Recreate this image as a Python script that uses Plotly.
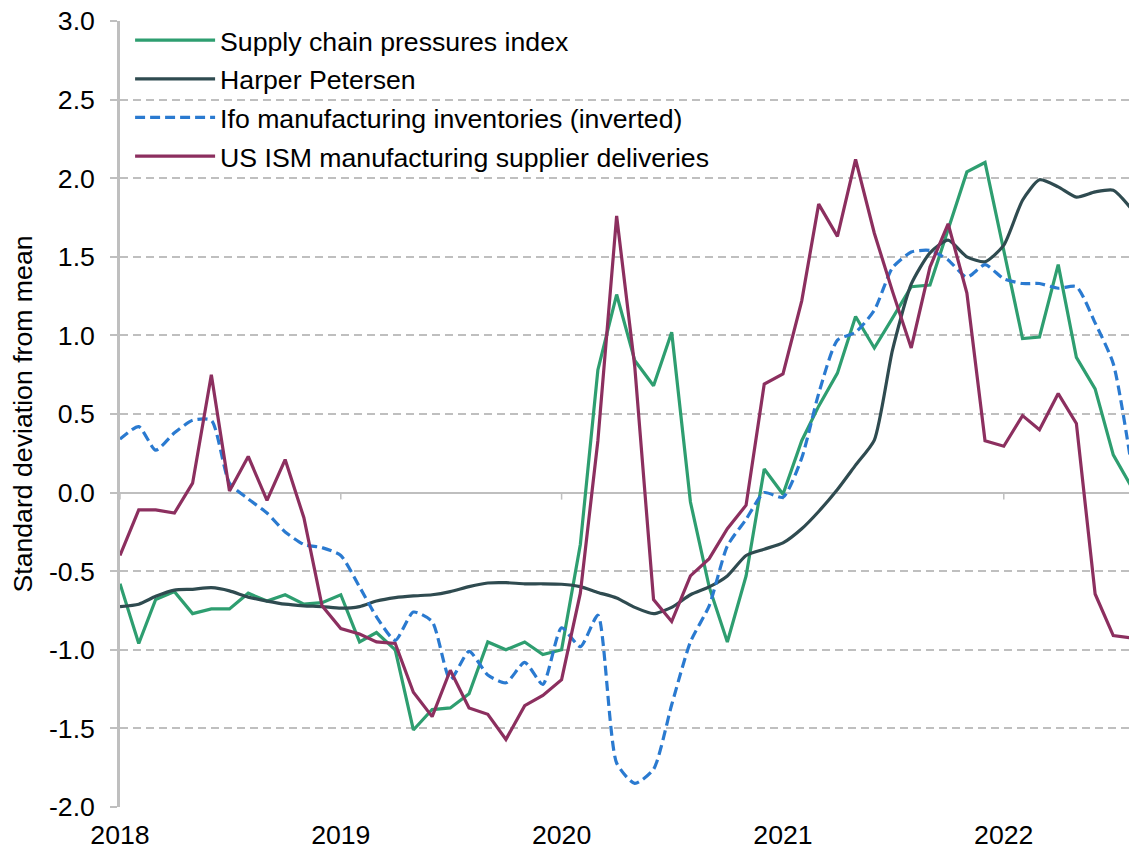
import pandas as pd
import plotly.graph_objects as go

# Monthly observations, Jan 2018 - Aug 2022
months = pd.date_range("2018-01-01", "2022-08-01", freq="MS")

supply_chain = [
    -0.58, -0.96, -0.68, -0.63, -0.77, -0.74, -0.74, -0.64, -0.69, -0.65, -0.71, -0.70,
    -0.65, -0.95, -0.89, -1.00, -1.51, -1.38, -1.37, -1.28, -0.95, -1.00, -0.95, -1.03,
    -1.00, -0.33, 0.78, 1.26, 0.84, 0.68, 1.02, -0.06, -0.60, -0.95, -0.53, 0.15,
    -0.01, 0.33, 0.55, 0.76, 1.12, 0.92, 1.11, 1.31, 1.32, 1.68, 2.04, 2.10,
    1.55, 0.98, 0.99, 1.45, 0.86, 0.66, 0.24, 0.03,
]

harper_petersen = [
    -0.725, -0.71, -0.66, -0.62, -0.615, -0.605, -0.625, -0.665, -0.69, -0.71, -0.72, -0.725,
    -0.735, -0.725, -0.69, -0.668, -0.657, -0.65, -0.63, -0.598, -0.575, -0.573, -0.58, -0.58,
    -0.583, -0.598, -0.635, -0.67, -0.73, -0.77, -0.73, -0.65, -0.60, -0.53, -0.40, -0.36,
    -0.32, -0.23, -0.12, 0.02, 0.175, 0.334, 0.906, 1.326, 1.525, 1.606, 1.50, 1.468,
    1.574, 1.86, 1.99, 1.945, 1.88, 1.913, 1.924, 1.80,
]

ifo_inventories = [
    0.34, 0.42, 0.27, 0.38, 0.46, 0.46, 0.06, -0.04, -0.13, -0.25, -0.33, -0.35,
    -0.40, -0.60, -0.79, -0.94, -0.76, -0.82, -1.19, -1.01, -1.16, -1.21, -1.08, -1.22,
    -0.86, -0.98, -0.78, -1.72, -1.85, -1.76, -1.35, -0.95, -0.72, -0.34, -0.17, 0.00,
    -0.03, 0.22, 0.63, 0.97, 1.02, 1.16, 1.43, 1.53, 1.54, 1.48, 1.37, 1.45,
    1.36, 1.33, 1.33, 1.30, 1.31, 1.08, 0.82, 0.15,
]

ism_deliveries = [
    -0.40, -0.11, -0.11, -0.13, 0.06, 0.75, 0.01, 0.23, -0.05, 0.21, -0.16, -0.72,
    -0.865, -0.90, -0.95, -0.96, -1.27, -1.425, -1.13, -1.37, -1.41, -1.57, -1.355, -1.29,
    -1.19, -0.64, 0.33, 1.76, 0.80, -0.68, -0.82, -0.53, -0.42, -0.23, -0.08, 0.69,
    0.755, 1.22, 1.835, 1.63, 2.12, 1.65, 1.28, 0.92, 1.435, 1.71, 1.27, 0.33,
    0.295, 0.49, 0.40, 0.63, 0.44, -0.645, -0.91, -0.925,
]

year_ticks = ["2018-01-01", "2019-01-01", "2020-01-01", "2021-01-01", "2022-01-01"]
year_labels = ["2018", "2019", "2020", "2021", "2022"]
y_ticks = [-2.0, -1.5, -1.0, -0.5, 0.0, 0.5, 1.0, 1.5, 2.0, 2.5, 3.0]
y_labels = [f"{v:.1f}" for v in y_ticks]

LABEL_FONT = dict(family="Liberation Sans, Arial, sans-serif", size=26.67, color="#000000")
AXIS_GREY = "#BFBFBF"

series = [
    ("Supply chain pressures index", supply_chain, "#2E9E70", "solid", "linear"),
    ("Harper Petersen", harper_petersen, "#2F4B50", "solid", "spline"),
    ("Ifo manufacturing inventories (inverted)", ifo_inventories, "#2A7AD0", "10px,5px", "spline"),
    ("US ISM manufacturing supplier deliveries", ism_deliveries, "#8C2F5F", "solid", "linear"),
]

fig = go.Figure()
for i, (name, values, color, dash, shape) in enumerate(series):
    line = dict(color=color, width=3.2, dash=dash, shape=shape)
    if shape == "spline":
        line["smoothing"] = 0.6
    fig.add_trace(go.Scatter(
        x=months, y=values, name=name, mode="lines", line=line,
        legendgroup=f"g{i}",
    ))

# small tick marks hanging below the zero line at each year start
for d in year_ticks:
    fig.add_shape(
        type="line", xref="x", yref="y", x0=d, x1=d,
        ysizemode="pixel", yanchor=0, y0=0, y1=-7,
        line=dict(color=AXIS_GREY, width=1.5), layer="below",
    )

fig.update_layout(
    width=1129, height=853,
    margin=dict(l=120, r=0, t=21, b=46),
    plot_bgcolor="white", paper_bgcolor="white",
    font=LABEL_FONT,
    legend=dict(
        x=0.01, y=1.006, xanchor="left", yanchor="top",
        bgcolor="rgba(0,0,0,0)", borderwidth=0,
        font=LABEL_FONT, itemwidth=80,
        traceorder="grouped", tracegroupgap=1,
    ),
    showlegend=True,
)

fig.update_xaxes(
    type="date", range=["2018-01-01", "2022-07-27"],
    tickvals=year_ticks, ticktext=year_labels,
    showgrid=False, showline=False, ticks="", zeroline=False,
    tickfont=LABEL_FONT, ticklabelstandoff=9,
)

fig.update_yaxes(
    range=[-2.0, 3.0], tickvals=y_ticks, ticktext=y_labels,
    showgrid=True, gridcolor=AXIS_GREY, gridwidth=1.5, griddash="8px,5px",
    zeroline=True, zerolinecolor=AXIS_GREY, zerolinewidth=2,
    showline=True, linecolor=AXIS_GREY, linewidth=2.5,
    ticks="outside", ticklen=7, tickcolor=AXIS_GREY, tickwidth=1.5,
    tickfont=LABEL_FONT, ticklabelstandoff=10,
    title=dict(text="Standard deviation from mean", font=LABEL_FONT, standoff=9),
)

fig.write_html("out.html")
